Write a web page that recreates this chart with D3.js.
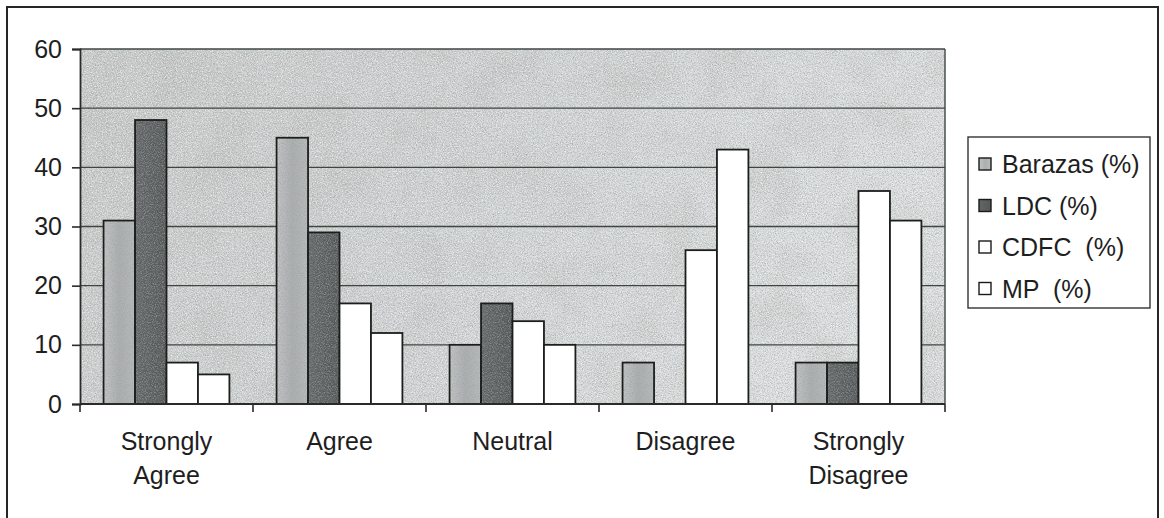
<!DOCTYPE html>
<html>
<head>
<meta charset="utf-8">
<script src="https://cdn.jsdelivr.net/npm/d3@7"></script>
<style>
  html, body { margin: 0; padding: 0; background: #ffffff; }
  svg { display: block; }
  text { font-family: "Liberation Sans", Arial, sans-serif; fill: #1e1e1e; }
</style>
</head>
<body>
<svg id="chart" width="1164" height="518"></svg>
<script>
// Survey responses by institution (percent)
const categories = [["Strongly", "Agree"], ["Agree"], ["Neutral"], ["Disagree"], ["Strongly", "Disagree"]];
const seriesNames = ["Barazas (%)", "LDC (%)", "CDFC  (%)", "MP  (%)"];
const barazas = [31, 45, 10, 7, 7];
const ldc     = [48, 29, 17, 0, 7];
const cdfc    = [7, 17, 14, 26, 36];
const mp      = [5, 12, 10, 43, 31];
const yTicks  = [0, 10, 20, 30, 40, 50, 60];

const seriesValues = [barazas, ldc, cdfc, mp];
const seriesFill = ["url(#lightFill)", "url(#darkFill)", "#ffffff", "#ffffff"];

const svg = d3.select("#chart");
const defs = svg.append("defs");

// fine speckle texture used for the plot background and shaded bars
const grain = defs.append("filter").attr("id", "grain")
  .attr("x", 0).attr("y", 0).attr("width", "100%").attr("height", "100%");
grain.append("feTurbulence").attr("type", "fractalNoise")
  .attr("baseFrequency", 0.9).attr("numOctaves", 2).attr("seed", 7).attr("result", "n");
grain.append("feColorMatrix").attr("in", "n").attr("type", "matrix")
  .attr("values", "0 0 0 0 0.35  0 0 0 0 0.36  0 0 0 0 0.36  1.8 0 0 0 -0.75").attr("result", "dots");
grain.append("feComposite").attr("in", "dots").attr("in2", "SourceGraphic").attr("operator", "in");

// light speckles to break up the fill
const flecks = defs.append("filter").attr("id", "flecks")
  .attr("x", 0).attr("y", 0).attr("width", "100%").attr("height", "100%");
flecks.append("feTurbulence").attr("type", "fractalNoise")
  .attr("baseFrequency", 0.8).attr("numOctaves", 2).attr("seed", 21).attr("result", "n");
flecks.append("feColorMatrix").attr("in", "n").attr("type", "matrix")
  .attr("values", "0 0 0 0 0.95  0 0 0 0 0.97  0 0 0 0 0.97  1.8 0 0 0 -0.78").attr("result", "dots");
flecks.append("feComposite").attr("in", "dots").attr("in2", "SourceGraphic").attr("operator", "in");

// soft large-scale shading
const blotch = defs.append("filter").attr("id", "blotch")
  .attr("x", 0).attr("y", 0).attr("width", "100%").attr("height", "100%");
blotch.append("feTurbulence").attr("type", "fractalNoise")
  .attr("baseFrequency", 0.02).attr("numOctaves", 3).attr("seed", 3).attr("result", "n");
blotch.append("feColorMatrix").attr("in", "n").attr("type", "matrix")
  .attr("values", "0 0 0 0 0.4  0 0 0 0 0.4  0 0 0 0 0.4  0.6 0 0 0 -0.25").attr("result", "b");
blotch.append("feComposite").attr("in", "b").attr("in2", "SourceGraphic").attr("operator", "in");

const bgGrad = defs.append("linearGradient").attr("id", "bgGrad")
  .attr("x1", 0).attr("y1", 0).attr("x2", 1).attr("y2", 0.3);
bgGrad.append("stop").attr("offset", 0).attr("stop-color", "#c6c8c8");
bgGrad.append("stop").attr("offset", 0.5).attr("stop-color", "#cfd2d2");
bgGrad.append("stop").attr("offset", 1).attr("stop-color", "#dcdfdf");

const lightGrad = defs.append("linearGradient").attr("id", "lightFill")
  .attr("x1", 0).attr("y1", 0).attr("x2", 1).attr("y2", 0);
lightGrad.append("stop").attr("offset", 0).attr("stop-color", "#c2c5c5");
lightGrad.append("stop").attr("offset", 0.5).attr("stop-color", "#acafaf");
lightGrad.append("stop").attr("offset", 1).attr("stop-color", "#b8bbbb");

const darkGrad = defs.append("linearGradient").attr("id", "darkFill")
  .attr("x1", 0).attr("y1", 0).attr("x2", 1).attr("y2", 0);
darkGrad.append("stop").attr("offset", 0).attr("stop-color", "#626666");
darkGrad.append("stop").attr("offset", 1).attr("stop-color", "#545858");

// plot geometry
const plot = { left: 80, right: 945, top: 49, bottom: 404 };

const x0 = d3.scaleBand().domain(d3.range(categories.length))
  .range([plot.left, plot.right]).padding(0);
const x1 = d3.scaleBand().domain(d3.range(seriesNames.length))
  .range([0, x0.bandwidth()]).paddingInner(0).paddingOuter(0.75);
const y = d3.scaleLinear().domain([0, 60]).range([plot.bottom, plot.top]);

// outer chart frame
svg.append("rect").attr("x", 7).attr("y", 7).attr("width", 1151).attr("height", 530)
  .attr("fill", "none").attr("stroke", "#262626").attr("stroke-width", 2);

// plot background with texture
const pw = plot.right - plot.left, ph = plot.bottom - plot.top;
svg.append("rect").attr("x", plot.left).attr("y", plot.top).attr("width", pw).attr("height", ph)
  .attr("fill", "url(#bgGrad)");
svg.append("rect").attr("x", plot.left).attr("y", plot.top).attr("width", pw).attr("height", ph)
  .attr("fill", "#000").attr("filter", "url(#blotch)");
svg.append("rect").attr("x", plot.left).attr("y", plot.top).attr("width", pw).attr("height", ph)
  .attr("fill", "#000").attr("filter", "url(#grain)");
svg.append("rect").attr("x", plot.left).attr("y", plot.top).attr("width", pw).attr("height", ph)
  .attr("fill", "#000").attr("filter", "url(#flecks)");

// gridlines
svg.append("g").selectAll("line").data(yTicks.filter(d => d > 0)).join("line")
  .attr("x1", plot.left).attr("x2", plot.right)
  .attr("y1", d => y(d)).attr("y2", d => y(d))
  .attr("stroke", "#3e4642").attr("stroke-width", 1.4);

// right border of plot area
svg.append("line").attr("x1", plot.right).attr("x2", plot.right)
  .attr("y1", plot.top).attr("y2", plot.bottom)
  .attr("stroke", "#3e4642").attr("stroke-width", 1.4);

// bars
const groups = svg.append("g").selectAll("g").data(categories).join("g")
  .attr("transform", (d, i) => `translate(${x0(i)},0)`);
groups.selectAll("rect.bar")
  .data((d, i) => seriesValues.map((vals, s) => ({ s, v: vals[i] })).filter(e => e.v > 0))
  .join("rect").attr("class", "bar")
  .attr("x", d => x1(d.s)).attr("width", x1.bandwidth())
  .attr("y", d => y(d.v)).attr("height", d => y(0) - y(d.v))
  .attr("fill", d => seriesFill[d.s])
  .attr("stroke", "#1a1f1c").attr("stroke-width", 1.8);
// speckle on shaded bars
groups.selectAll("rect.grain")
  .data((d, i) => seriesValues.map((vals, s) => ({ s, v: vals[i] })).filter(e => e.v > 0 && e.s < 2))
  .join("rect").attr("class", "grain")
  .attr("x", d => x1(d.s) + 1).attr("width", x1.bandwidth() - 2)
  .attr("y", d => y(d.v) + 1).attr("height", d => y(0) - y(d.v) - 2)
  .attr("fill", "#000").attr("filter", "url(#grain)");

// y axis
const yAxis = d3.axisLeft(y).tickValues(yTicks).tickSize(8).tickPadding(10);
const gy = svg.append("g").attr("transform", `translate(${plot.left},0)`).call(yAxis);
gy.select(".domain").attr("stroke", "#2a2a2a").attr("stroke-width", 1.8);
gy.selectAll(".tick line").attr("stroke", "#2a2a2a").attr("stroke-width", 1.6);
gy.selectAll(".tick text").attr("font-size", 25).attr("fill", "#1e1e1e")
  .attr("font-family", "Liberation Sans, Arial, sans-serif");

// x axis with ticks at category boundaries
const xAxisLine = svg.append("g");
xAxisLine.append("line").attr("x1", plot.left).attr("x2", plot.right)
  .attr("y1", plot.bottom).attr("y2", plot.bottom)
  .attr("stroke", "#2a2a2a").attr("stroke-width", 1.8);
xAxisLine.selectAll("line.tk").data(d3.range(categories.length + 1)).join("line").attr("class", "tk")
  .attr("x1", i => plot.left + i * x0.step()).attr("x2", i => plot.left + i * x0.step())
  .attr("y1", plot.bottom).attr("y2", plot.bottom + 8)
  .attr("stroke", "#2a2a2a").attr("stroke-width", 1.6);

// category labels
const labels = svg.append("g").selectAll("text").data(categories).join("text")
  .attr("text-anchor", "middle").attr("font-size", 25)
  .attr("x", (d, i) => x0(i) + x0.bandwidth() / 2).attr("y", 450);
labels.selectAll("tspan").data(d => d).join("tspan")
  .attr("x", function () { return this.parentNode.getAttribute("x"); })
  .attr("dy", (d, i) => i === 0 ? 0 : 34)
  .text(d => d);

// legend
const legend = svg.append("g");
legend.append("rect").attr("x", 968).attr("y", 137).attr("width", 182).attr("height", 171)
  .attr("fill", "#ffffff").attr("stroke", "#333").attr("stroke-width", 1.4);
const items = legend.selectAll("g.item").data(seriesNames).join("g").attr("class", "item")
  .attr("transform", (d, i) => `translate(979,${164 + i * 41.5})`);
items.append("rect").attr("x", 0).attr("y", -6).attr("width", 12).attr("height", 12)
  .attr("fill", (d, i) => seriesFill[i]).attr("stroke", "#1a1a1a").attr("stroke-width", 1.4);
items.append("text").attr("x", 23).attr("y", 0).attr("dy", "0.36em")
  .attr("font-size", 25).style("white-space", "pre").attr("xml:space", "preserve")
  .text(d => d);
</script>
</body>
</html>
